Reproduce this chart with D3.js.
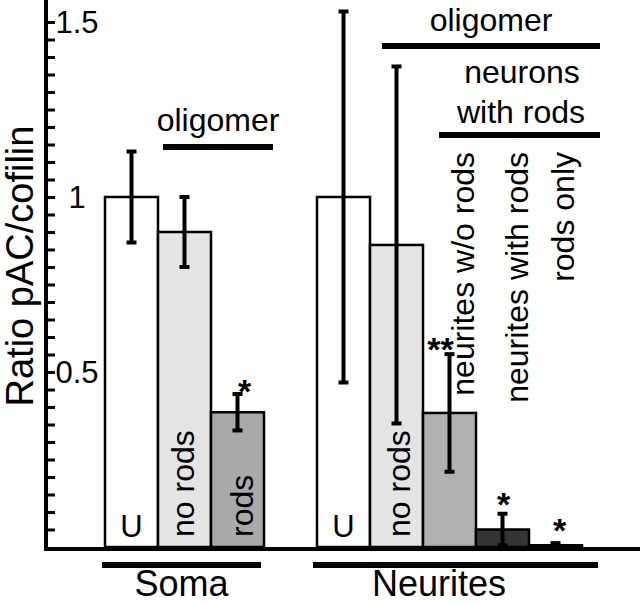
<!DOCTYPE html>
<html>
<head>
<meta charset="utf-8">
<script src="https://cdnjs.cloudflare.com/ajax/libs/d3/7.8.5/d3.min.js"></script>
<style>
  body { margin: 0; background: #fff; }
  svg { display: block; font-family: "Liberation Sans", Arial, sans-serif; }
</style>
</head>
<body>
<svg id="chart" width="640" height="603"></svg>
<script>
// bars left to right: 3 soma bars, then 5 neurite bars
const categories = ["somaU", "somaNoRods", "somaRods", "neuU", "neuNoRods", "neuWoRods", "neuWithRods", "neuRodsOnly"];
const values = [1.0, 0.9, 0.385, 1.0, 0.863, 0.383, 0.05, 0.005];
const errors = [0.13, 0.1, 0.052, 0.53, 0.51, 0.168, 0.045, 0.006];
const stars = ["", "", "*", "", "", "**", "*", "*"];
const innerLabels = ["U", "no rods", "rods", "U", "no rods", "", "", ""];
const topLabels = ["", "", "", "", "", "neurites w/o rods", "neurites with rods", "rods only"];
const tickValues = d3.range(1, 31).map(i => +(i * 0.05).toFixed(2));
const tickLabels = [0.5, 1, 1.5];

const svg = d3.select("#chart");
const slots = categories.slice(0, 3).concat(["gap"], categories.slice(3));
const x = d3.scaleBand().domain(slots).range([105, 582]);
const bw = x.bandwidth();
const y = d3.scaleLinear().domain([0, 1.5]).range([547, 22]);
const fill = d3.scaleOrdinal().domain(categories)
  .range(["#fff", "#e4e4e4", "#a9a9a9", "#fff", "#e4e4e4", "#b1b1b1", "#353535", "#222"]);

const bars = categories.map((c, i) => ({
  c: c, v: values[i], e: errors[i], star: stars[i], inner: innerLabels[i], top: topLabels[i]
}));

// bars
svg.append("g").selectAll("rect").data(bars).enter().append("rect")
  .attr("x", d => x(d.c))
  .attr("y", d => y(d.v))
  .attr("width", bw)
  .attr("height", d => y(0) - y(d.v))
  .attr("fill", d => fill(d.c))
  .attr("stroke", "#000")
  .attr("stroke-width", 2.5);

// error bars
const eb = svg.append("g").attr("stroke", "#000").attr("stroke-width", 4);
bars.forEach(d => {
  const cx = x(d.c) + bw / 2;
  const lo = Math.max(0, d.v - d.e);
  eb.append("line").attr("x1", cx).attr("x2", cx).attr("y1", y(d.v + d.e)).attr("y2", y(lo));
  eb.append("line").attr("x1", cx - 5).attr("x2", cx + 5).attr("y1", y(d.v + d.e)).attr("y2", y(d.v + d.e));
  eb.append("line").attr("x1", cx - 5).attr("x2", cx + 5).attr("y1", y(lo)).attr("y2", y(lo));
});

// y axis
const axis = svg.append("g").attr("transform", "translate(46,0)")
  .call(d3.axisRight(y).tickValues(tickValues).tickSize(9).tickSizeOuter(0)
    .tickFormat(d => tickLabels.includes(d) ? String(d) : ""));
axis.select(".domain").remove();
axis.selectAll(".tick line").attr("stroke", "#000").attr("stroke-width", 3);
axis.selectAll(".tick text")
  .attr("x", 31).attr("dy", "0.35em")
  .attr("text-anchor", "middle")
  .attr("font-size", 31)
  .attr("font-family", "Liberation Sans, Arial, sans-serif")
  .attr("fill", "#000");
svg.append("line").attr("x1", 46).attr("x2", 46).attr("y1", 0).attr("y2", 551)
  .attr("stroke", "#000").attr("stroke-width", 4);
svg.append("line").attr("x1", 44).attr("x2", 640).attr("y1", y(0) + 2).attr("y2", y(0) + 2)
  .attr("stroke", "#000").attr("stroke-width", 4);

svg.append("text")
  .attr("transform", "translate(33,266) rotate(-90)")
  .attr("text-anchor", "middle")
  .attr("font-size", 38)
  .text("Ratio pAC/cofilin");

// labels inside bars
const innerDx = { somaNoRods: 9, somaRods: 15, neuNoRods: 13 };
bars.filter(d => d.inner).forEach(d => {
  const cx = x(d.c) + bw / 2;
  if (d.inner === "U") {
    svg.append("text").attr("x", cx).attr("y", 537).attr("text-anchor", "middle")
      .attr("font-size", 31).text(d.inner);
  } else {
    svg.append("text").attr("transform", `translate(${cx + innerDx[d.c]},537) rotate(-90)`)
      .attr("font-size", 32).text(d.inner);
  }
});

// rotated labels above the neurite bars
const topDx = { neuWoRods: 24, neuWithRods: 25, neuRodsOnly: 18 };
bars.filter(d => d.top).forEach(d => {
  const cx = x(d.c) + bw / 2;
  svg.append("text").attr("transform", `translate(${cx + topDx[d.c]},152) rotate(-90)`)
    .attr("text-anchor", "end").attr("font-size", 32).text(d.top);
});

// significance stars
const starDx = { somaRods: 7, neuWoRods: -9, neuWithRods: 1, neuRodsOnly: 4 };
const starDy = { somaRods: 9, neuWoRods: 7, neuWithRods: 2, neuRodsOnly: -1 };
bars.filter(d => d.star).forEach(d => {
  const cx = x(d.c) + bw / 2;
  svg.append("text").attr("x", cx + starDx[d.c]).attr("y", y(d.v + d.e) + starDy[d.c])
    .attr("text-anchor", "middle").attr("font-size", 34).attr("font-weight", "bold")
    .text(d.star);
});

// group annotations
function bracket(x1, x2, yy, label, ly, size) {
  svg.append("line").attr("x1", x1).attr("x2", x2).attr("y1", yy).attr("y2", yy)
    .attr("stroke", "#000").attr("stroke-width", 6);
  if (label) {
    svg.append("text").attr("x", (x1 + x2) / 2).attr("y", ly)
      .attr("text-anchor", "middle").attr("font-size", size).text(label);
  }
}
bracket(x("somaNoRods") + 5, x("somaRods") + bw + 9, 147, "oligomer", 131, 32);
bracket(x("neuNoRods") + 12, x("neuRodsOnly") + bw + 18, 46, "", 0, 32);
svg.append("text").attr("x", 491).attr("y", 31).attr("text-anchor", "middle")
  .attr("font-size", 32).text("oligomer");
bracket(x("neuWoRods") + 16, x("neuRodsOnly") + bw + 18, 135, "", 0, 32);
svg.append("text").attr("x", 522).attr("y", 83).attr("text-anchor", "middle")
  .attr("font-size", 32).text("neurons");
svg.append("text").attr("x", 521).attr("y", 123).attr("text-anchor", "middle")
  .attr("font-size", 32).text("with rods");

bracket(x("somaU") - 3, x("somaRods") + bw - 3, 565, "Soma", 596, 36);
bracket(x("neuU") - 4, x("neuRodsOnly") + bw + 16, 565, "", 0, 36);
svg.append("text").attr("x", 439).attr("y", 596).attr("text-anchor", "middle")
  .attr("font-size", 36).text("Neurites");
</script>
</body>
</html>
